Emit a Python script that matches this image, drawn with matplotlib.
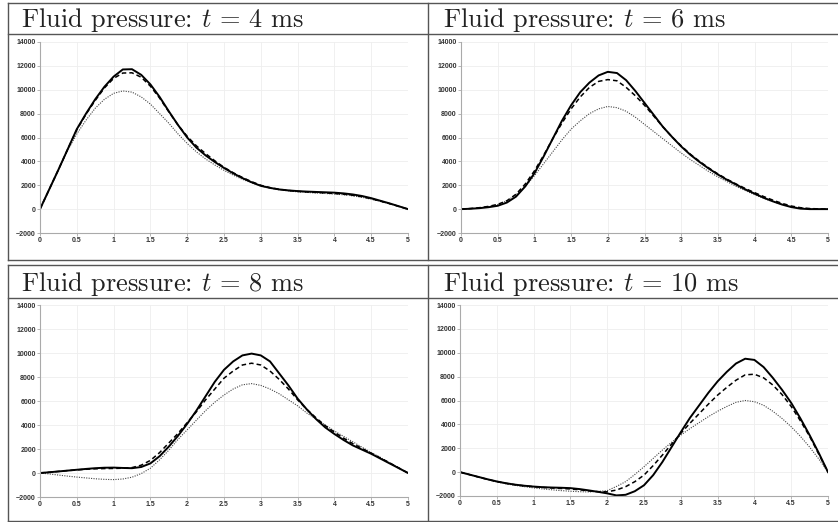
import matplotlib
matplotlib.use("Agg")
import matplotlib.pyplot as plt
from matplotlib.lines import Line2D

# position along the domain, read every 0.125
x = [0, 0.125, 0.25, 0.375, 0.5, 0.625, 0.75, 0.875, 1, 1.125, 1.25, 1.375,
     1.5, 1.625, 1.75, 1.875, 2, 2.125, 2.25, 2.375, 2.5, 2.625, 2.75, 2.875,
     3, 3.125, 3.25, 3.375, 3.5, 3.625, 3.75, 3.875, 4, 4.125, 4.25, 4.375,
     4.5, 4.625, 4.75, 4.875, 5]

times = [4, 6, 8, 10]  # ms

# t = 4 ms
solid_4 = [0, 1650, 3300, 5000, 6700, 8000, 9200, 10250, 11100, 11700, 11720, 11250,
           10450, 9400, 8200, 7050, 6000, 5150, 4500, 3950, 3450, 3000, 2600, 2250,
           1950, 1780, 1650, 1570, 1510, 1470, 1440, 1410, 1380, 1320, 1230, 1100,
           920, 700, 480, 240, 0]
dashed_4 = [0, 1650, 3300, 5000, 6650, 7950, 9100, 10150, 10950, 11400, 11420, 11050,
            10300, 9300, 8150, 7050, 6100, 5300, 4650, 4050, 3500, 3050, 2650, 2300,
            2000, 1800, 1660, 1560, 1490, 1440, 1400, 1360, 1310, 1250, 1160, 1040,
            870, 670, 460, 230, 0]
dotted_4 = [0, 1650, 3300, 4900, 6300, 7450, 8450, 9200, 9700, 9900, 9800, 9400,
            8800, 8000, 7200, 6300, 5500, 4800, 4200, 3700, 3250, 2850, 2500, 2200,
            1950, 1750, 1620, 1520, 1450, 1400, 1350, 1310, 1260, 1200, 1110, 990,
            830, 640, 440, 220, 0]

# t = 6 ms
solid_6 = [0, 30, 80, 160, 280, 550, 1050, 1900, 3000, 4400, 5900, 7400,
           8700, 9800, 10600, 11200, 11500, 11400, 10800, 9900, 8900, 7900, 6900, 6050,
           5250, 4550, 3950, 3400, 2900, 2450, 2050, 1650, 1300, 950, 650, 380,
           170, 40, 0, 0, 0]
dashed_6 = [0, 50, 120, 230, 400, 700, 1250, 2100, 3200, 4500, 5900, 7200,
            8400, 9400, 10200, 10700, 10850, 10750, 10200, 9500, 8700, 7800, 6900, 6050,
            5300, 4600, 4000, 3450, 2950, 2500, 2100, 1720, 1380, 1050, 750, 480,
            260, 120, 50, 20, 0]
dotted_6 = [0, 40, 100, 200, 380, 700, 1200, 1900, 2800, 3800, 4800, 5800,
            6700, 7400, 8000, 8400, 8600, 8500, 8200, 7700, 7100, 6500, 5900, 5300,
            4700, 4150, 3650, 3150, 2700, 2300, 1900, 1550, 1200, 900, 620, 400,
            220, 100, 40, 10, 0]

# t = 8 ms
solid_8 = [0, 60, 130, 200, 270, 340, 400, 440, 450, 420, 400, 500,
           800, 1400, 2200, 3100, 4100, 5200, 6400, 7600, 8600, 9300, 9800, 9950,
           9800, 9300, 8300, 7300, 6200, 5300, 4500, 3800, 3250, 2750, 2300, 1950,
           1600, 1200, 800, 400, 0]
dashed_8 = [0, 60, 130, 200, 260, 310, 350, 370, 380, 400, 450, 650,
            1050, 1700, 2500, 3300, 4200, 5100, 6100, 7000, 7900, 8500, 9000, 9150,
            9000, 8500, 7800, 7000, 6100, 5300, 4600, 3950, 3400, 2900, 2450, 2050,
            1650, 1250, 850, 420, 0]
dotted_8 = [0, -80, -170, -260, -340, -410, -480, -530, -550, -500, -350, -50,
            400, 1100, 1900, 2800, 3600, 4400, 5200, 5900, 6500, 7000, 7350, 7450,
            7300, 7000, 6600, 6100, 5600, 5000, 4500, 4000, 3500, 3050, 2600, 2150,
            1700, 1300, 850, 430, 0]

# t = 10 ms
solid_10 = [0, -200, -400, -600, -780, -930, -1050, -1140, -1210, -1260, -1290, -1310,
            -1340, -1420, -1530, -1650, -1780, -1950, -1900, -1600, -1100, -250, 850, 2100,
            3350, 4550, 5600, 6650, 7600, 8400, 9100, 9500, 9400, 8800, 7900, 6900,
            5800, 4500, 3100, 1600, 0]
dashed_10 = [0, -200, -410, -610, -790, -940, -1060, -1150, -1220, -1280, -1330, -1370,
             -1410, -1480, -1570, -1640, -1650, -1500, -1220, -800, -250, 550, 1430, 2350,
             3250, 4100, 4900, 5700, 6450, 7100, 7700, 8150, 8200, 7900, 7300, 6500,
             5500, 4300, 3000, 1500, 0]
dotted_10 = [0, -210, -420, -630, -820, -980, -1110, -1220, -1320, -1410, -1480, -1550,
             -1600, -1640, -1660, -1620, -1550, -1200, -800, -200, 450, 1150, 1850, 2500,
             3100, 3650, 4150, 4650, 5100, 5500, 5850, 6000, 5900, 5600, 5100, 4500,
             3800, 3000, 2100, 1100, 0]

series = {
    4: (solid_4, dashed_4, dotted_4),
    6: (solid_6, dashed_6, dotted_6),
    8: (solid_8, dashed_8, dotted_8),
    10: (solid_10, dashed_10, dotted_10),
}

xticks = [0, 0.5, 1, 1.5, 2, 2.5, 3, 3.5, 4, 4.5, 5]
xticklabels = ["0", "0.5", "1", "1.5", "2", "2.5", "3", "3.5", "4", "4.5", "5"]
yticks = [-2000, 0, 2000, 4000, 6000, 8000, 10000, 12000, 14000]

plt.rcParams["mathtext.fontset"] = "cm"

W, H = 838, 522
fig = plt.figure(figsize=(W / 100, H / 100), dpi=100)


def box(x0, y0, x1, y1):
    # pixel box (top-left origin) -> figure fraction rect
    return [x0 / W, 1 - y1 / H, (x1 - x0) / W, (y1 - y0) / H]


def hline(y, x0, x1, c="#555555", lw=1.0):
    fig.add_artist(Line2D([x0 / W, x1 / W], [1 - y / H, 1 - y / H],
                          transform=fig.transFigure, color=c, lw=lw))


def vline(xp, y0, y1, c="#555555", lw=1.0):
    fig.add_artist(Line2D([xp / W, xp / W], [1 - y0 / H, 1 - y1 / H],
                          transform=fig.transFigure, color=c, lw=lw))


# table frame
for top, bot, sep in [(3, 260, 33.5), (265, 521, 297.5)]:
    hline(top, 8, W)
    hline(bot, 8, W)
    hline(sep, 8, W)
    vline(8, top, bot)
    vline(428, top, bot)

# panel layout: (axes box, title x, title baseline y)
panels = [
    (box(40, 42, 408, 233), 21, 27),
    (box(461, 42, 828, 233), 443, 27),
    (box(40, 305, 408, 497), 21, 291),
    (box(460, 305, 828, 496), 443, 291),
]

renderer = fig.canvas.get_renderer()

for t, (rect, tx, ty) in zip(times, panels):
    ax = fig.add_axes(rect)
    solid, dashed, dotted = series[t]
    ax.plot(x, dotted, color="#444444", lw=0.8, ls=(0, (1, 1.2)))
    ax.plot(x, dashed, color="black", lw=1.1, ls=(0, (3, 2)))
    ax.plot(x, solid, color="black", lw=1.4)
    ax.set_xlim(0, 5)
    ax.set_ylim(-2000, 14000)
    ax.set_xticks(xticks)
    ax.set_xticklabels(xticklabels)
    ax.set_yticks(yticks)
    ax.grid(True, color="#eeeeee", lw=0.6)
    ax.set_axisbelow(True)
    for s in ["top", "right"]:
        ax.spines[s].set_visible(False)
    for s in ["left", "bottom"]:
        ax.spines[s].set_color("#aaaaaa")
        ax.spines[s].set_linewidth(0.8)
    ax.tick_params(length=2, width=0.6, color="#aaaaaa", pad=1,
                   labelsize=5, labelcolor="#333333")
    for lab in ax.get_xticklabels() + ax.get_yticklabels():
        lab.set_fontfamily("Liberation Sans")
        lab.set_fontweight("bold")

    title = fig.text(tx / W, 1 - ty / H, "Fluid pressure: $t$ = %d ms" % t,
                     fontsize=20, fontfamily="cmr10", color="#222222",
                     ha="left", va="baseline")
    # scale so that the "t = 4 ms" heading spans about 283 px like the original
    if t == 4:
        wpx = title.get_window_extent(renderer).width
        fs = 20 * 283 / wpx
    title.set_fontsize(fs)

fig.savefig("out.png", dpi=100)
